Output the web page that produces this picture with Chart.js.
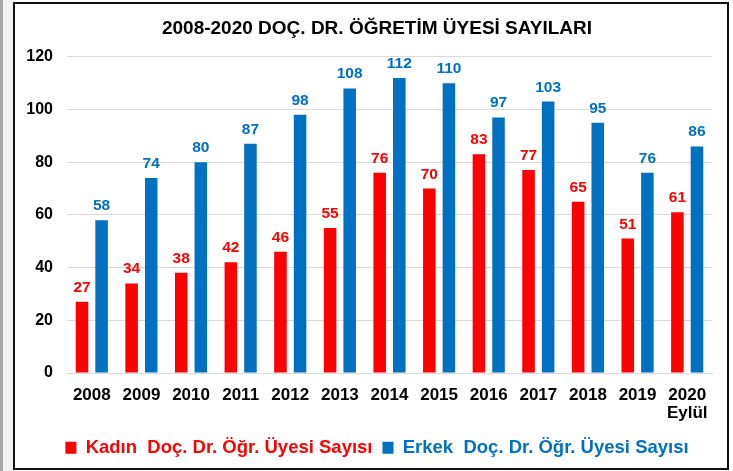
<!DOCTYPE html>
<html>
<head>
<meta charset="utf-8">
<script src="https://cdn.jsdelivr.net/npm/chart.js@4.4.1/dist/chart.umd.min.js"></script>
<style>
body{margin:0;background:#fff;}
#edge{position:absolute;left:0;top:0;width:3px;height:471px;background:#A6A6A6;}
#edge2{position:absolute;left:3px;top:0;width:10px;height:471px;background:#F2F2F2;}
#frame{position:absolute;left:13px;top:2px;width:712px;height:464px;border:2px solid #111;background:#fff;}
#chartBox{position:absolute;left:0;top:0;width:733px;height:471px;}
</style>
</head>
<body>
<div id="edge"></div>
<div id="edge2"></div>
<div id="frame"></div>
<div id="chartBox"><canvas id="docChart" width="733" height="471"></canvas></div>
<script>
/* data */
const years=["2008","2009","2010","2011","2012","2013","2014","2015","2016","2017","2018","2019",["2020","Eylül"]];
const kadin=[27,34,38,42,46,55,76,70,83,77,65,51,61];
const erkek=[58,74,80,87,98,108,112,110,97,103,95,76,86];
const yTicks=[0,20,40,60,80,100,120];

const red="#FF0000";
const blue="#0070C0";
const fontFam="'Liberation Sans', Arial, sans-serif";

/* labels above bars */
const barLabels={
  id:"barLabels",
  afterDatasetsDraw(chart){
    const c=chart.ctx;
    c.save();
    c.font="bold 15.5px "+fontFam;
    c.textAlign="center";
    c.textBaseline="alphabetic";
    chart.data.datasets.forEach((ds,i)=>{
      const meta=chart.getDatasetMeta(i);
      c.fillStyle=ds.backgroundColor;
      meta.data.forEach((bar,j)=>{
        c.fillText(ds.data[j],bar.x,bar.y-10);
      });
    });
    c.restore();
  }
};

new Chart(document.getElementById("docChart"),{
  type:"bar",
  data:{
    labels:years,
    datasets:[{
      label:"Kadın  Doç. Dr. Öğr. Üyesi Sayısı",
      data:kadin,
      backgroundColor:red,
      categoryPercentage:0.79,
      barPercentage:0.64
    },{
      label:"Erkek  Doç. Dr. Öğr. Üyesi Sayısı",
      data:erkek,
      backgroundColor:blue,
      categoryPercentage:0.79,
      barPercentage:0.64
    }]
  },
  options:{
    responsive:false,
    animation:false,
    layout:{padding:{left:42,right:21,top:6,bottom:4}},
    plugins:{
      title:{
        display:true,
        text:"2008-2020 DOÇ. DR. ÖĞRETİM ÜYESİ SAYILARI",
        color:"#000",
        font:{family:fontFam,size:19,weight:"bold"},
        padding:{top:11,bottom:17}
      },
      legend:{
        position:"bottom",
        labels:{
          boxWidth:11,
          boxHeight:12,
          padding:10,
          font:{family:fontFam,size:18.5,weight:"bold"},
          generateLabels(chart){
            return chart.data.datasets.map((ds,i)=>({
              text:ds.label,
              fillStyle:ds.backgroundColor,
              strokeStyle:ds.backgroundColor,
              lineWidth:0,
              fontColor:ds.backgroundColor,
              datasetIndex:i,
              hidden:false
            }));
          }
        }
      },
      tooltip:{enabled:false}
    },
    scales:{
      x:{
        grid:{display:false},
        border:{color:"#D9D9D9",width:1},
        afterFit(axis){axis.height=55.5;},
        ticks:{
          color:"#000",
          maxRotation:0,
          autoSkip:false,
          padding:5,
          font:{family:fontFam,size:17,weight:"bold",lineHeight:1.06}
        }
      },
      y:{
        min:0,
        max:120,
        afterBuildTicks(axis){axis.ticks=yTicks.map(v=>({value:v}));},
        afterFit(axis){
          axis.width=25;
          // let the tick labels spill left of the narrow axis box
          axis._computeLabelArea=()=>undefined;
        },
        grid:{color:"#D9D9D9",drawTicks:false},
        border:{display:false},
        ticks:{
          color:"#000",
          padding:14,
          font:{family:fontFam,size:16,weight:"bold"}
        }
      }
    }
  },
  plugins:[barLabels]
});
</script>
</body>
</html>
